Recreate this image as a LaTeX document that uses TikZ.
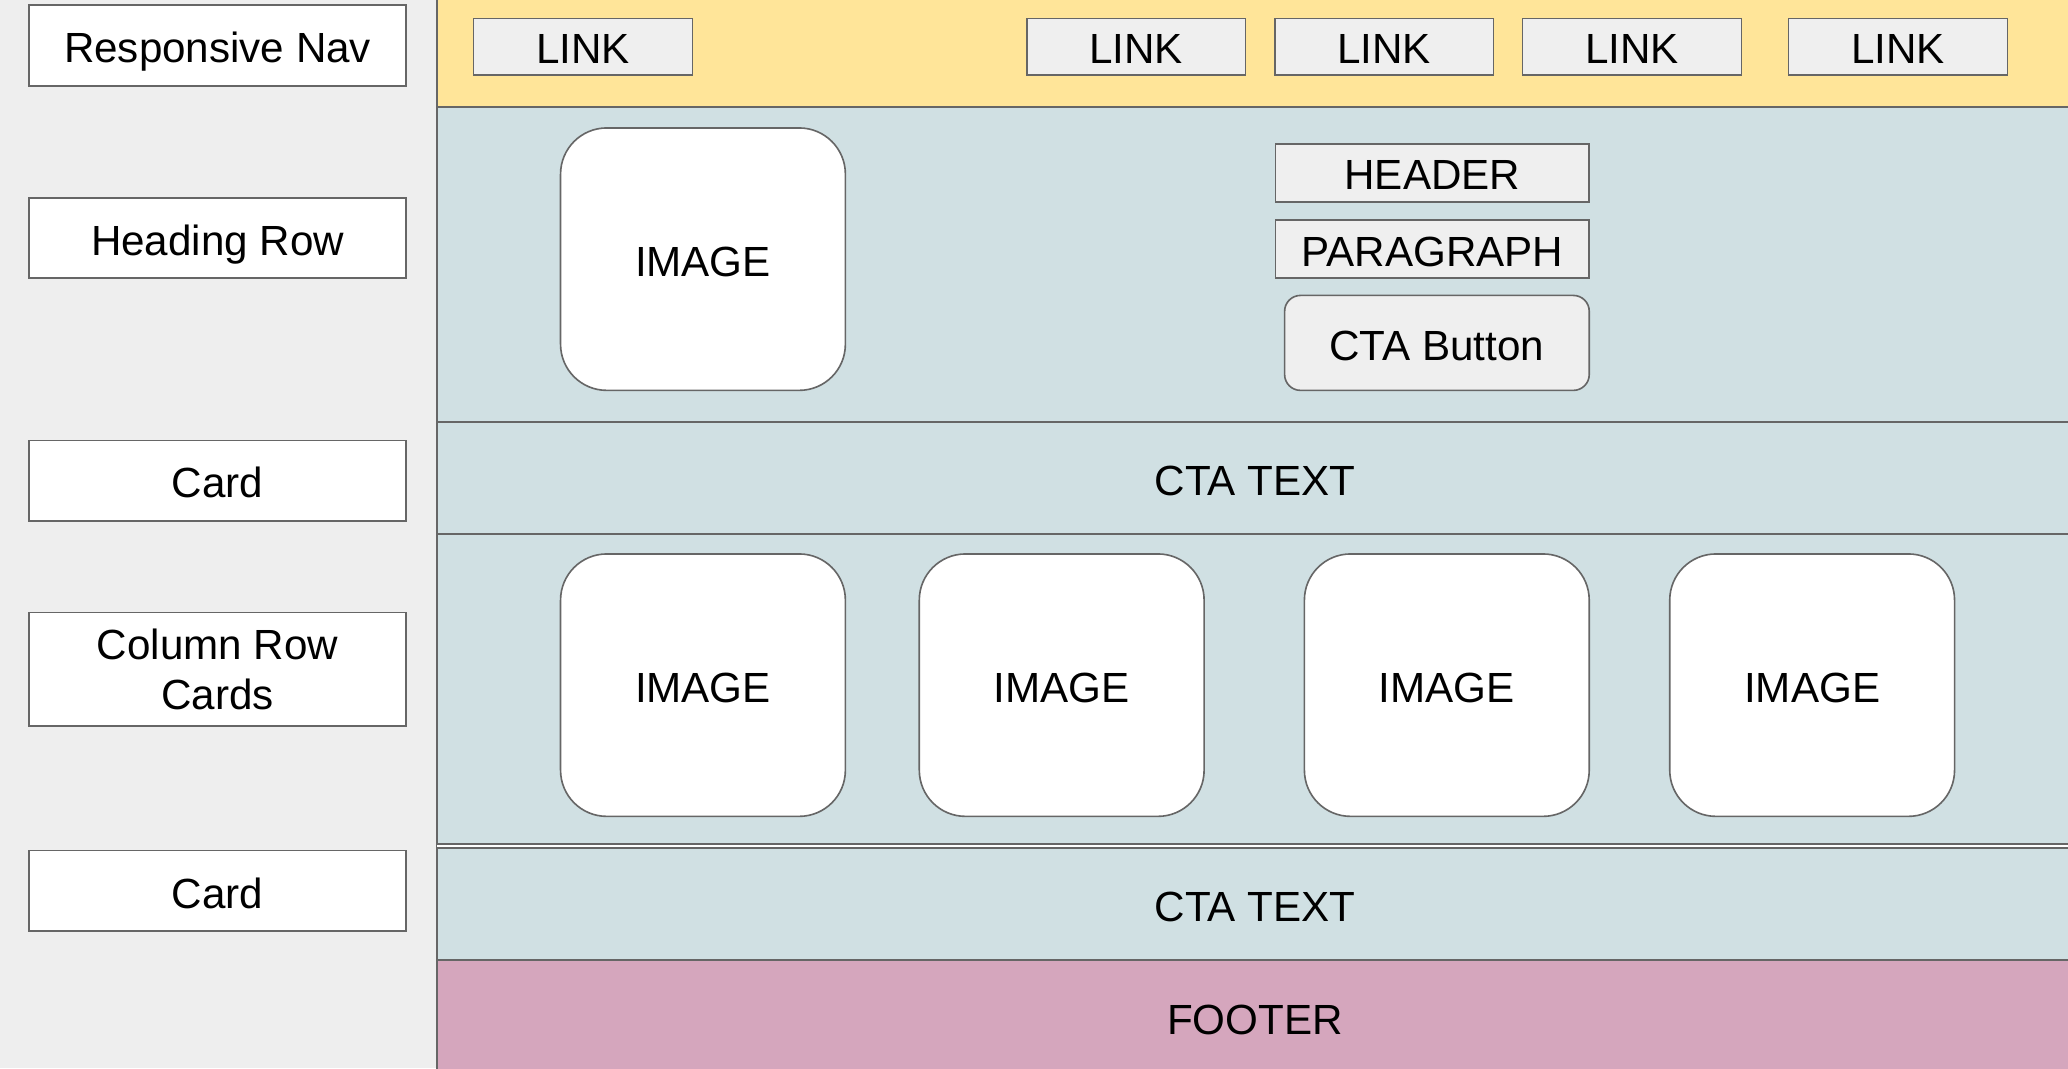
\documentclass[tikz,border=0pt]{standalone}
\usepackage{fontspec}
\setmainfont{Liberation Sans}
\usetikzlibrary{positioning}
\definecolor{panelgray}{HTML}{EEEEEE}
\definecolor{navyellow}{HTML}{FFE599}
\definecolor{rowblue}{HTML}{D0E0E3}
\definecolor{footpink}{HTML}{D5A6BD}
\definecolor{boxgray}{HTML}{EFEFEF}
\definecolor{edgegray}{HTML}{666666}
\tikzset{
  every node/.style={font=\fontsize{18.2}{21.6}\selectfont, text=black, inner sep=0pt, text height=14.8pt, text depth=0pt},
  lbl/.style={draw=edgegray, line width=0.7pt, fill=white, minimum width=5.72cm, minimum height=1.22cm, align=center},
  sect/.style={draw=edgegray, line width=0.8pt, minimum width=24.82cm, fill=rowblue},
  linkbox/.style={draw=edgegray, line width=0.7pt, fill=boxgray, minimum width=3.32cm, minimum height=0.86cm},
  txtbox/.style={draw=edgegray, line width=0.7pt, fill=boxgray, minimum width=4.76cm, minimum height=0.88cm},
  imgbox/.style={draw=edgegray, line width=0.7pt, fill=white, rounded corners=0.7cm, minimum width=4.32cm, minimum height=3.98cm}
}
\begin{document}
\begin{tikzpicture}[x=0.02cm, y=-0.02cm]
  \useasboundingbox (0,0) rectangle (1568,810);
  \fill[panelgray] (0,0) rectangle (331,810);

  \node[lbl] (nav) at (165,34.5) {Responsive Nav};
  \node[lbl] (heading) at (165,180.5) {Heading Row};
  \node[lbl] (card1) at (165,364.5) {Card};
  \node[lbl, minimum height=1.72cm, text height=, text depth=] (columns) at (165,507.5) {Column Row\\Cards};
  \node[lbl] (card2) at (165,675.5) {Card};

  \node[sect, fill=navyellow, minimum height=1.7cm] (navrow) at (951.5,38.5) {};
  \node[sect, minimum height=4.78cm] (headrow) at (951.5,200.5) {};
  \node[sect, minimum height=1.7cm] (cta1) at (951.5,362.5) {CTA TEXT};
  \node[sect, minimum height=4.7cm] (colrow) at (951.5,522.5) {};
  \node[sect, minimum height=1.7cm] (cta2) at (951.5,685.5) {CTA TEXT};
  \node[sect, fill=footpink, minimum height=1.72cm] (footer) at (951.5,771) {FOOTER};
  \draw[edgegray, line width=0.8pt] (331,0) -- (331,810);

  \node[linkbox] (link1) at (442,35.5) {LINK};
  \node[linkbox] (link2) at (861.5,35.5) {LINK};
  \node[linkbox] (link3) at (1049.5,35.5) {LINK};
  \node[linkbox] (link4) at (1237.5,35.5) {LINK};
  \node[linkbox] (link5) at (1439,35.5) {LINK};

  \node[imgbox] (heroimg) at (533,196.5) {IMAGE};
  \node[txtbox] (header) at (1086,131) {HEADER};
  \node[txtbox] (para) at (1086,189) {PARAGRAPH};
  \node[txtbox, rounded corners=0.24cm, minimum width=4.62cm, minimum height=1.44cm] (button) at (1089.5,260) {CTA Button};

  \node[imgbox] (img1) at (533,519.5) {IMAGE};
  \node[imgbox] (img2) at (805,519.5) {IMAGE};
  \node[imgbox] (img3) at (1097,519.5) {IMAGE};
  \node[imgbox] (img4) at (1374,519.5) {IMAGE};
\end{tikzpicture}
\end{document}
